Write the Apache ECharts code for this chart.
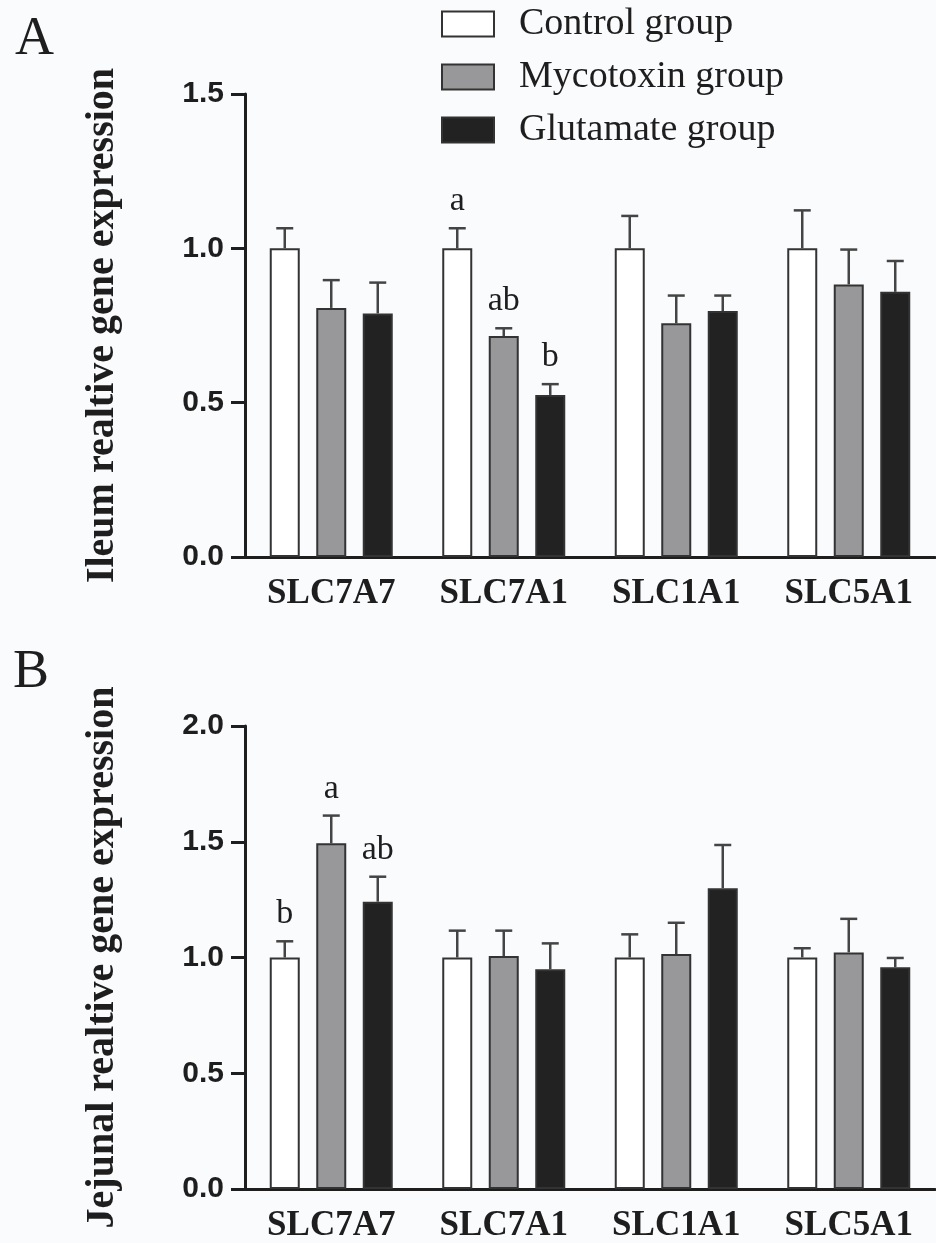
<!DOCTYPE html>
<html>
<head>
<meta charset="utf-8">
<script src="https://cdn.jsdelivr.net/npm/echarts@6/dist/echarts.min.js"></script>
<style>
html,body{margin:0;padding:0;background:#fafbfd;}
#chart{width:936px;height:1243px;}
</style>
</head>
<body>
<div id="chart"></div>
<script>
// ---- data ----
const categories = ['SLC7A7', 'SLC7A1', 'SLC1A1', 'SLC5A1'];
const groupNames = ['Control group', 'Mycotoxin group', 'Glutamate group'];

// Panel A: Ileum
const ileumControl = [1.0, 1.0, 1.0, 1.0];
const ileumControlErr = [0.065, 0.065, 0.105, 0.123];
const ileumMyco = [0.807, 0.716, 0.757, 0.883];
const ileumMycoErr = [0.09, 0.025, 0.09, 0.113];
const ileumGlu = [0.789, 0.525, 0.797, 0.859];
const ileumGluErr = [0.10, 0.035, 0.05, 0.10];
const ileumControlLetters = ['', 'a', '', ''];
const ileumMycoLetters = ['', 'ab', '', ''];
const ileumGluLetters = ['', 'b', '', ''];

// Panel B: Jejunum
const jejControl = [1.0, 1.0, 1.0, 1.0];
const jejControlErr = [0.07, 0.116, 0.10, 0.04];
const jejMyco = [1.493, 1.006, 1.015, 1.022];
const jejMycoErr = [0.12, 0.11, 0.135, 0.145];
const jejGlu = [1.241, 0.949, 1.299, 0.958];
const jejGluErr = [0.108, 0.112, 0.187, 0.04];
const jejControlLetters = ['b', '', '', ''];
const jejMycoLetters = ['a', '', '', ''];
const jejGluLetters = ['ab', '', '', ''];

const yTicksA = [0, 1.5, 0.5];   // min, max, interval
const yTicksB = [0, 2.0, 0.5];

// ---- styles ----
const fills = ['#ffffff', '#98989b', '#222222'];
const BAR_W = 30;
const BAR_GAP = 0.55;
const SERIF = 'Liberation Serif';
const SANS = 'Liberation Sans';
const INK = '#1e1e1e';

const chart = echarts.init(document.getElementById('chart'));

function barSeries(name, data, idx, gi) {
  return {
    type: 'bar', name: name, data: data,
    xAxisIndex: gi, yAxisIndex: gi,
    barWidth: BAR_W, barGap: (BAR_GAP * 100) + '%',
    itemStyle: { color: fills[idx], borderColor: '#333333', borderWidth: 2 },
    emphasis: { disabled: true },
    z: 2
  };
}

function errSeries(name, vals, errs, letters, idx, gi) {
  return {
    type: 'custom', name: name,
    xAxisIndex: gi, yAxisIndex: gi,
    data: vals.map((v, i) => [i, v, errs[i]]),
    z: 3,
    silent: true,
    renderItem: function (params, api) {
      const ci = api.value(0);
      const v = api.value(1);
      const e = api.value(2);
      const letter = letters[ci];
      const base = api.coord([ci, v]);
      const top = api.coord([ci, v + e]);
      const x = base[0] + (idx - 1) * BAR_W * (1 + BAR_GAP);
      const children = [
        { type: 'line', shape: { x1: x, y1: base[1], x2: x, y2: top[1] },
          style: { stroke: '#444444', lineWidth: 2.5 } },
        { type: 'line', shape: { x1: x - 8.5, y1: top[1], x2: x + 8.5, y2: top[1] },
          style: { stroke: '#444444', lineWidth: 2.5 } }
      ];
      if (letter) {
        children.push({ type: 'text', x: x, y: top[1] - 10,
          style: { text: letter, font: 'normal 34px "' + SERIF + '"', fill: INK,
                   textAlign: 'center', textVerticalAlign: 'bottom' } });
      }
      return { type: 'group', children: children };
    }
  };
}

function xAxisDef(gi) {
  return {
    type: 'category', gridIndex: gi, data: categories,
    axisLine: { lineStyle: { color: INK, width: 3 } },
    axisTick: { alignWithLabel: true, length: 13, lineStyle: { color: INK, width: 3 } },
    axisLabel: { fontFamily: SERIF, fontWeight: 'bold', fontSize: 35, color: INK, margin: 19 }
  };
}

function yAxisDef(gi, ticks, title) {
  return {
    type: 'value', gridIndex: gi, min: ticks[0], max: ticks[1], interval: ticks[2],
    splitLine: { show: false },
    axisLine: { show: true, lineStyle: { color: INK, width: 3 } },
    axisTick: { show: true, length: 14, lineStyle: { color: INK, width: 3 } },
    axisLabel: { fontFamily: SANS, fontWeight: 'bold', fontSize: 30, color: INK, margin: 21,
                 formatter: v => v.toFixed(1) },
    name: title, nameLocation: 'middle', nameRotate: 90, nameGap: 122,
    nameTextStyle: { fontFamily: SERIF, fontWeight: 'bold', fontSize: 40, color: INK }
  };
}

const option = {
  backgroundColor: '#fafbfd',
  animation: false,
  title: [
    { text: 'A', left: 10, top: 8, textStyle: { fontFamily: SERIF, fontWeight: 'normal', fontSize: 54, color: INK } },
    { text: 'B', left: 8, top: 641, textStyle: { fontFamily: SERIF, fontWeight: 'normal', fontSize: 54, color: INK } }
  ],
  legend: {
    data: groupNames, orient: 'vertical', left: 436, top: 0,
    icon: 'rect', itemWidth: 52, itemHeight: 25, itemGap: 15,
    selectedMode: false,
    textStyle: { fontFamily: SERIF, fontSize: 38, color: INK, padding: [0, 0, 0, 20] }
  },
  grid: [
    { left: 245, width: 690, top: 94, height: 463 },
    { left: 245, width: 690, top: 726, height: 463 }
  ],
  xAxis: [xAxisDef(0), xAxisDef(1)],
  yAxis: [
    yAxisDef(0, yTicksA, 'Ileum realtive gene expression'),
    yAxisDef(1, yTicksB, 'Jejunal realtive gene expression')
  ],
  series: [
    barSeries(groupNames[0], ileumControl, 0, 0),
    barSeries(groupNames[1], ileumMyco, 1, 0),
    barSeries(groupNames[2], ileumGlu, 2, 0),
    errSeries('errA0', ileumControl, ileumControlErr, ileumControlLetters, 0, 0),
    errSeries('errA1', ileumMyco, ileumMycoErr, ileumMycoLetters, 1, 0),
    errSeries('errA2', ileumGlu, ileumGluErr, ileumGluLetters, 2, 0),
    barSeries(groupNames[0], jejControl, 0, 1),
    barSeries(groupNames[1], jejMyco, 1, 1),
    barSeries(groupNames[2], jejGlu, 2, 1),
    errSeries('errB0', jejControl, jejControlErr, jejControlLetters, 0, 1),
    errSeries('errB1', jejMyco, jejMycoErr, jejMycoLetters, 1, 1),
    errSeries('errB2', jejGlu, jejGluErr, jejGluLetters, 2, 1)
  ]
};
chart.setOption(option);
</script>
</body>
</html>
